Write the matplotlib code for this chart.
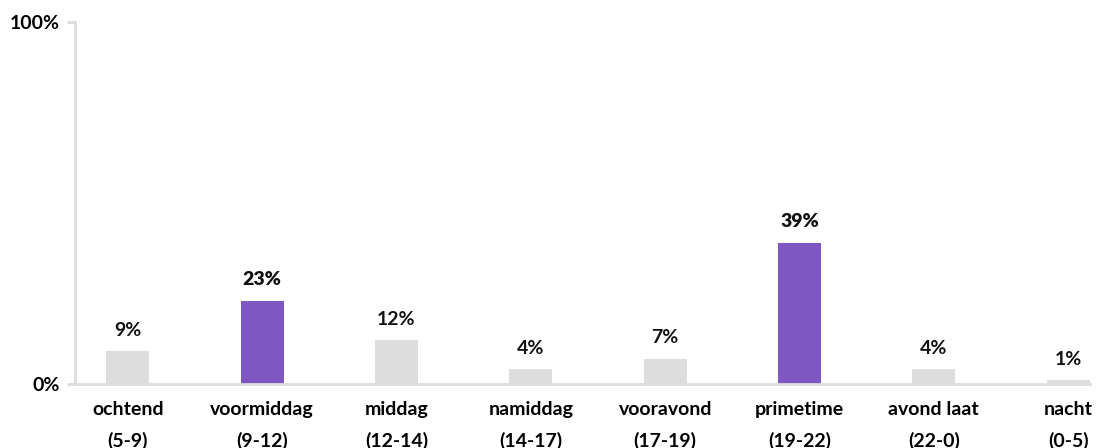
import matplotlib.pyplot as plt

categories = ["ochtend\n(5-9)", "voormiddag\n(9-12)", "middag\n(12-14)", "namiddag\n(14-17)",
              "vooravond\n(17-19)", "primetime\n(19-22)", "avond laat\n(22-0)", "nacht\n(0-5)"]
values = [9, 23, 12, 4, 7, 39, 4, 1]
highlight = [False, True, False, False, False, True, False, False]

purple = "#7E57C2"
grey = "#DDDDDD"

plt.rcParams['font.family'] = ['Lato', 'DejaVu Sans']

fig = plt.figure(figsize=(10.99, 4.48), dpi=100)
ax = fig.add_axes([0.068, 0.143, 0.924, 0.808])

x = range(len(values))
colors = [purple if h else grey for h in highlight]
ax.bar(x, values, width=0.32, color=colors)

for xi, v, h in zip(x, values, highlight):
    ax.annotate(f"{v}%", (xi, v), xytext=(0, 9), textcoords="offset points",
                ha="center", va="bottom", fontsize=14,
                fontweight="heavy" if h else "bold", color="#111111")

ax.set_xlim(-0.395, 7.164)
ax.set_ylim(0, 100)
ax.set_yticks([0, 100])
ax.set_yticklabels(["0%", "100%"], fontsize=14, fontweight="bold")
ax.set_xticks(list(x))
ax.set_xticklabels(categories, fontsize=14, fontweight="bold", linespacing=1.95)
ax.tick_params(axis="x", length=0, pad=12)
ax.tick_params(axis="y", length=6, width=2, color=grey, pad=5)

for s in ["top", "right"]:
    ax.spines[s].set_visible(False)
for s in ["left", "bottom"]:
    ax.spines[s].set_color(grey)
    ax.spines[s].set_linewidth(2)

fig.savefig("out.png", dpi=100)
